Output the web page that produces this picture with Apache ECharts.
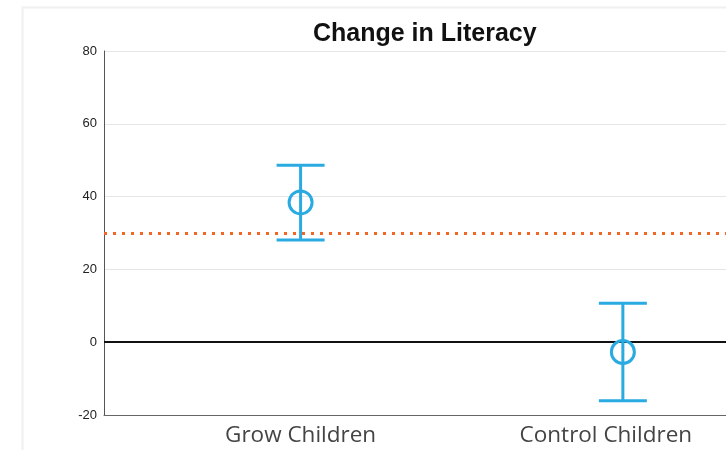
<!DOCTYPE html>
<html>
<head>
<meta charset="utf-8">
<script src="https://cdn.jsdelivr.net/npm/echarts@6/dist/echarts.min.js"></script>
<style>
  html, body { margin: 0; padding: 0; background: #fff; }
  #chart { width: 726px; height: 450px; }
</style>
</head>
<body>
<div id="chart"></div>
<script>
// groups on the x axis
const categories = ['Grow Children', 'Control Children'];
const groupPos = [1, 2];
// mean change and error bar ends
const means = [38.4, -2.7];
const lowers = [28.1, -16.1];
const uppers = [48.6, 10.7];
// reference lines
const zeroLine = 0;
const targetLine = 30;

const blue = '#29abe2';
const orange = '#f26522';

const barData = groupPos.map((x, i) => [x, means[i], lowers[i], uppers[i]]);

const chart = echarts.init(document.getElementById('chart'));

chart.setOption({
  animation: false,
  backgroundColor: '#fff',
  title: {
    text: 'Change in Literacy',
    left: 313,
    top: 22,
    padding: 0,
    textStyle: {
      fontFamily: 'Liberation Sans, Arial, sans-serif',
      fontWeight: 'bold',
      fontSize: 25,
      color: '#111'
    }
  },
  graphic: [
    {
      type: 'rect',
      left: 20,
      top: 5,
      shape: { width: 800, height: 500 },
      style: { fill: 'none', stroke: '#f0f0f0', lineWidth: 2 },
      silent: true
    }
  ],
  grid: {
    left: 104,
    right: 0,
    top: 51,
    bottom: 35
  },
  xAxis: {
    type: 'value',
    min: 0.39,
    max: 2.32,
    splitLine: { show: false },
    axisTick: { show: false },
    axisLine: { show: true, onZero: false, lineStyle: { color: '#666', width: 1 } },
    axisLabel: {
      customValues: groupPos,
      margin: 9,
      formatter: (v) => {
        const i = groupPos.indexOf(v);
        return i === 1 ? '{b|' + categories[i] + '}' : '{a|' + categories[i] + '}';
      },
      rich: {
        a: { fontFamily: 'Open Sans', fontSize: 22.5, color: '#444' },
        b: { fontFamily: 'Open Sans', fontSize: 22.5, color: '#444', padding: [0, 34, 0, 0] }
      }
    }
  },
  yAxis: {
    type: 'value',
    min: -20,
    max: 80,
    interval: 20,
    axisLine: { show: true, onZero: false, lineStyle: { color: '#555', width: 1 } },
    axisTick: { show: false },
    axisLabel: {
      margin: 7,
      fontFamily: 'Liberation Sans, Arial, sans-serif',
      fontSize: 13,
      color: '#222'
    },
    splitLine: { lineStyle: { color: '#e6e6e6', width: 1 } }
  },
  series: [
    {
      type: 'custom',
      z: 6,
      data: barData,
      renderItem: function (params, api) {
        const x = api.value(0);
        const p = api.coord([x, api.value(1)]);
        const lo = api.coord([x, api.value(2)]);
        const hi = api.coord([x, api.value(3)]);
        const half = 24;
        const style = { stroke: blue, lineWidth: 3, fill: 'none' };
        return {
          type: 'group',
          children: [
            { type: 'line', shape: { x1: hi[0], y1: hi[1], x2: lo[0], y2: lo[1] }, style: style },
            { type: 'line', shape: { x1: hi[0] - half, y1: hi[1], x2: hi[0] + half, y2: hi[1] }, style: style },
            { type: 'line', shape: { x1: lo[0] - half, y1: lo[1], x2: lo[0] + half, y2: lo[1] }, style: style },
            { type: 'circle', shape: { cx: p[0], cy: p[1], r: 11.5 }, style: style }
          ]
        };
      },
      markLine: {
        silent: true,
        symbol: 'none',
        label: { show: false },
        z: 3,
        data: [
          { yAxis: zeroLine, lineStyle: { color: '#111', width: 2, type: 'solid' } },
          { yAxis: targetLine, lineStyle: { color: orange, width: 3, type: [3, 6] } }
        ]
      }
    }
  ]
});
</script>
</body>
</html>
